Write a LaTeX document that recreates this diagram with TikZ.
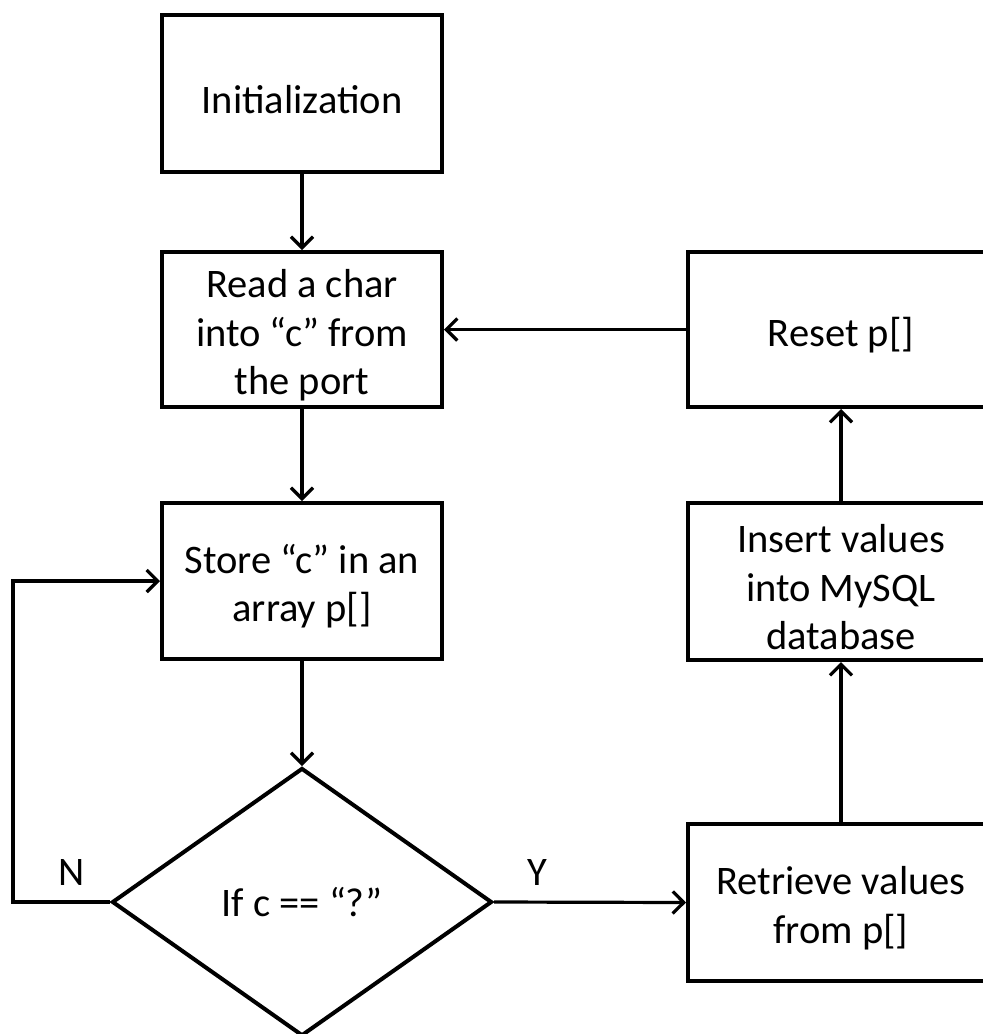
\documentclass[tikz,border=0pt]{standalone}
\usepackage{fontspec}
\setmainfont{Carlito}
\usetikzlibrary{shapes.geometric,arrows.meta}
\newcommand{\boxstrut}{\rule{0pt}{40pt}}
\tikzset{
  stepbox/.style={draw=black, line width=4pt, fill=white, align=center,
    inner sep=0pt, font=\fontsize{40.5}{48.5}\selectfont},
  decision/.style={draw=black, line width=4pt, diamond, inner sep=0pt,
    minimum width=380pt, minimum height=268pt, align=center,
    font=\fontsize{40.5}{48.5}\selectfont},
  flow/.style={line width=3.2pt, -{Straight Barb[length=11pt,width=22pt,line width=3.2pt]}},
  branch/.style={font=\fontsize{40.5}{48.5}\selectfont}
}
\begin{document}
\begin{tikzpicture}[x=1pt,y=-1pt]
  \clip (0,0) rectangle (983,1034);
  \fill[white] (0,0) rectangle (983,1034);

  % left column
  \node[stepbox, minimum width=280pt, minimum height=157pt] (init) at (302,93.5) {\boxstrut Initialization};
  \node[stepbox, minimum width=280pt, minimum height=155pt] (read) at (302,329.5) {\boxstrut Read a char\\into “c” from\\the port};
  \node[stepbox, minimum width=280pt, minimum height=156pt] (store) at (302,581) {\boxstrut Store “c” in an\\array p[]};
  \node[decision] (dec) at (302,902) {If c == “?”};

  % right column
  \node[stepbox, minimum width=306pt, minimum height=155pt] (reset) at (841,329.5) {\boxstrut Reset p[]};
  \node[stepbox, minimum width=306pt, minimum height=157pt] (insert) at (841,581.5) {\boxstrut Insert values\\into MySQL\\database};
  \node[stepbox, minimum width=306pt, minimum height=157pt] (retr) at (841,902.5) {\boxstrut Retrieve values\\from p[]};

  % connectors
  \draw[flow] (init.south) -- (read.north);
  \draw[flow] (read.south) -- (store.north);
  \draw[flow] (store.south) -- (dec.north);
  \coordinate (loop) at (13,902);
  \draw[flow] (dec.west) -- (loop) |- (store.west);
  \draw[flow] (dec.east) -- (retr.west);
  \draw[flow] (retr.north) -- (insert.south);
  \draw[flow] (insert.north) -- (reset.south);
  \draw[flow] (reset.west) -- (read.east);

  % branch labels
  \node[branch] (nlab) at (72,872) {N};
  \node[branch] (ylab) at (537,872) {Y};
\end{tikzpicture}
\end{document}
